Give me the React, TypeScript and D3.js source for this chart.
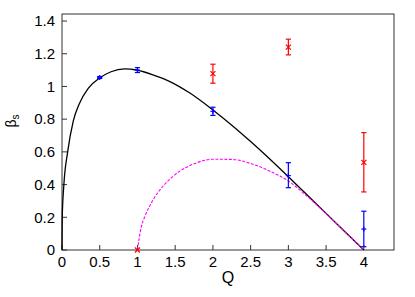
import React, { useRef, useEffect } from 'react';
import * as d3 from 'd3';

// black model curve
const curveQ = [0, 0.003, 0.025, 0.075, 0.15, 0.225, 0.35, 0.5, 0.65, 0.83, 1, 1.23, 1.43, 1.7, 2, 2.25, 2.5, 2.75, 3, 3.25, 3.5, 3.75, 4];
const curveB = [0, 0.2, 0.4, 0.6, 0.79, 0.89, 0.99, 1.052, 1.09, 1.107, 1.099, 1.066, 1.03, 0.958, 0.856, 0.763, 0.663, 0.558, 0.448, 0.336, 0.224, 0.112, 0];

// magenta dashed curve
const dashQ = [1, 1.05, 1.1, 1.2, 1.35, 1.5, 1.75, 2, 2.25, 2.5, 2.75, 3, 3.25, 3.5, 3.75, 4];
const dashB = [0, 0.14, 0.207, 0.301, 0.396, 0.461, 0.527, 0.555, 0.554, 0.529, 0.483, 0.422, 0.328, 0.222, 0.111, 0];

// blue data with error bars
const blueQ = [0.5, 1, 2, 3, 4];
const blueB = [1.055, 1.1, 0.848, 0.455, 0.128];
const blueLo = [1.049, 1.085, 0.823, 0.381, 0.02];
const blueHi = [1.061, 1.115, 0.873, 0.534, 0.237];

// red data with error bars
const redQ = [1, 2, 3, 4];
const redB = [0, 1.078, 1.24, 0.536];
const redLo = [0, 1.02, 1.193, 0.355];
const redHi = [0, 1.136, 1.289, 0.718];

const xTicks = [0, 0.5, 1, 1.5, 2, 2.5, 3, 3.5, 4];
const yTicks = [0, 0.2, 0.4, 0.6, 0.8, 1, 1.2, 1.4];

const App: React.FC = () => {
  const svgRef = useRef<SVGSVGElement | null>(null);
  const width = 415;
  const height = 297;
  const margin = { top: 14, right: 21, bottom: 47, left: 62 };
  const innerWidth = width - margin.left - margin.right;
  const innerHeight = height - margin.top - margin.bottom;

  useEffect(() => {
    if (!svgRef.current) return;
    const svg = d3.select(svgRef.current);
    svg.selectAll("*").remove();

    const x = d3.scaleLinear().domain([0, 4.4]).range([0, innerWidth]);
    const y = d3.scaleLinear().domain([0, 1.443]).range([innerHeight, 0]);

    const g = svg.append("g").attr("transform", `translate(${margin.left},${margin.top})`);
    const font = "'Liberation Sans', Arial, sans-serif";

    // frame
    g.append("rect")
      .attr("width", innerWidth)
      .attr("height", innerHeight)
      .attr("fill", "none")
      .attr("stroke", "#333")
      .attr("stroke-width", 1);

    // ticks (inward) and labels
    xTicks.forEach(t => {
      g.append("line")
        .attr("x1", x(t)).attr("x2", x(t))
        .attr("y1", innerHeight).attr("y2", innerHeight - 5)
        .attr("stroke", "#333");
      g.append("text")
        .attr("x", x(t)).attr("y", innerHeight + 17)
        .attr("text-anchor", "middle")
        .style("font-family", font).style("font-size", "15px")
        .text(d3.format("~g")(t));
    });
    yTicks.forEach(t => {
      g.append("line")
        .attr("x1", 0).attr("x2", 5)
        .attr("y1", y(t)).attr("y2", y(t))
        .attr("stroke", "#333");
      g.append("text")
        .attr("x", -7).attr("y", y(t) + 5.3)
        .attr("text-anchor", "end")
        .style("font-family", font).style("font-size", "15px")
        .text(d3.format("~g")(t));
    });

    // axis titles
    svg.append("text")
      .attr("x", margin.left + innerWidth / 2).attr("y", 283)
      .attr("text-anchor", "middle")
      .style("font-family", font).style("font-size", "16px")
      .text("Q");
    const yl = svg.append("text")
      .attr("transform", "translate(16,121) rotate(-90)")
      .attr("text-anchor", "middle")
      .style("font-family", font).style("font-size", "14px");
    yl.append("tspan").text("β");
    yl.append("tspan").attr("dy", 3).style("font-size", "10px").text("s");

    const line = d3.line<number>()
      .x(d => x(d))
      .curve(d3.curveMonotoneX);

    // black curve
    g.append("path")
      .attr("d", line.y((d, i) => y(curveB[i]))(curveQ)!)
      .attr("fill", "none")
      .attr("stroke", "#000")
      .attr("stroke-width", 1.3);

    // magenta dashed curve
    g.append("path")
      .attr("d", line.y((d, i) => y(dashB[i]))(dashQ)!)
      .attr("fill", "none")
      .attr("stroke", "#ff00ff")
      .attr("stroke-width", 1.1)
      .attr("stroke-dasharray", "3,1.5");

    const cap = 2.6;
    const drawBars = (qs: number[], vs: number[], lo: number[], hi: number[], color: string, mark: "plus" | "cross") => {
      qs.forEach((q, i) => {
        const cx = x(q);
        const e = g.append("g").attr("stroke", color).attr("stroke-width", 1.2);
        if (hi[i] > lo[i]) {
          e.append("line").attr("x1", cx).attr("x2", cx).attr("y1", y(lo[i])).attr("y2", y(hi[i]));
          [lo[i], hi[i]].forEach(v => {
            e.append("line").attr("x1", cx - cap).attr("x2", cx + cap).attr("y1", y(v)).attr("y2", y(v));
          });
        }
        const cy = y(vs[i]);
        const s = 2.5;
        if (mark === "plus") {
          e.append("line").attr("x1", cx - s).attr("x2", cx + s).attr("y1", cy).attr("y2", cy);
          e.append("line").attr("x1", cx).attr("x2", cx).attr("y1", cy - s).attr("y2", cy + s);
        } else {
          e.append("line").attr("x1", cx - s).attr("x2", cx + s).attr("y1", cy - s).attr("y2", cy + s);
          e.append("line").attr("x1", cx - s).attr("x2", cx + s).attr("y1", cy + s).attr("y2", cy - s);
        }
      });
    };

    drawBars(blueQ, blueB, blueLo, blueHi, "#0000ff", "plus");
    drawBars(redQ, redB, redLo, redHi, "#ff0000", "cross");
  }, []);

  return (
    <svg ref={svgRef} width={width} height={height}
      style={{ position: 'absolute', left: 0, top: 0, background: '#fff' }}></svg>
  );
};

export default App;
